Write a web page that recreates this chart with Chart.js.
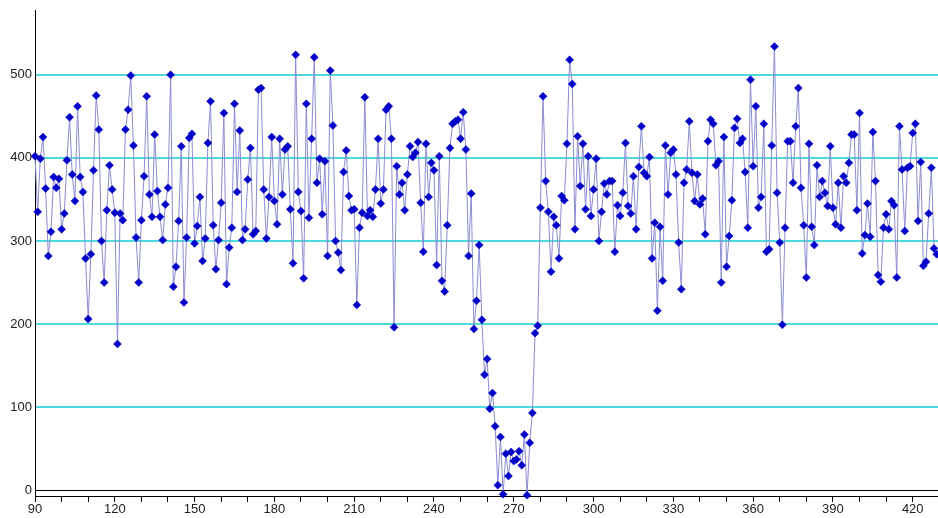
<!DOCTYPE html>
<html>
<head>
<meta charset="utf-8">
<script src="https://cdn.jsdelivr.net/npm/chart.js@4.4.0/dist/chart.umd.min.js"></script>
<style>
  html, body { margin: 0; padding: 0; background: #fff; }
  #wrap { width: 938px; height: 518px; }
</style>
</head>
<body>
<div id="wrap"><canvas id="chart" width="938" height="518"></canvas></div>
<script>
// first x of the series, one reading per unit after that
const firstX = 90;

const values = [
  // 90 - 148
  402, 335, 399, 425, 363, 282, 311, 377, 364, 375, 314, 333, 397, 449, 380, 348, 462, 377, 359, 279,
  206, 284, 385, 475, 434, 300, 250, 337, 391, 362, 334, 176, 333, 325, 434, 458, 499, 415, 304, 250,
  325, 378, 474, 356, 329, 428, 360, 329, 301, 344, 364, 500, 245, 269, 324, 414, 226, 304, 424,
  // 149 - 205
  429, 297, 318, 353, 276, 303, 418, 468, 319, 266, 301, 346, 454, 248, 292, 316, 465, 359, 433, 301,
  314, 374, 412, 308, 312, 482, 484, 362, 303, 353, 425, 348, 320, 423, 356, 410, 414, 338, 273, 524,
  359, 336, 255, 465, 328, 423, 521, 370, 399, 332, 396, 282, 505, 439, 300, 286, 265,
  // 206 - 244
  383, 409, 354, 337, 338, 223, 316, 334, 473, 330, 337, 329, 362, 423, 345, 362, 458, 462, 423, 196,
  390, 356, 370, 337, 380, 414, 401, 406, 419, 346, 287, 417, 353, 394, 385, 271, 402, 252, 239,
  // 245 - 280
  319, 412, 441, 444, 446, 423, 455, 410, 282, 357, 194, 228, 295, 205, 139, 158, 98, 117, 77, 6,
  64, -5, 44, 17, 46, 35, 37, 47, 30, 67, -6, 57, 93, 189, 198, 340,
  // 281 - 340
  474, 372, 335, 263, 329, 319, 279, 354, 349, 417, 518, 489, 314, 426, 366, 417, 338, 402, 330, 362,
  399, 300, 335, 369, 356, 372, 372, 287, 343, 330, 358, 418, 342, 333, 378, 314, 389, 438, 382, 378,
  401, 279, 322, 216, 317, 252, 415, 356, 406, 410, 380, 298, 242, 370, 386, 444, 382, 348, 380, 344,
  // 341 - 376
  351, 308, 420, 446, 441, 391, 396, 250, 425, 269, 306, 349, 436, 447, 418, 423, 383, 316, 494, 390,
  462, 340, 353, 441, 287, 290, 415, 534, 358, 298, 199, 316, 420, 420, 370, 438,
  // 377 - 429
  484, 364, 319, 256, 417, 317, 295, 391, 353, 372, 358, 342, 414, 340, 320, 370, 316, 378, 370, 394,
  428, 428, 337, 454, 285, 307, 345, 305, 431, 372, 259, 251, 316, 332, 314, 348, 343, 256, 438, 386,
  312, 388, 390, 430, 441, 324, 395, 270, 275, 333, 388, 291, 284
];

const xTickLabels = [90, 120, 150, 180, 210, 240, 270, 300, 330, 360, 390, 420];
const xMinorTicks = [90, 100, 110, 120, 130, 140, 150, 160, 170, 180, 190, 200, 210, 220, 230, 240, 250,
  260, 270, 280, 290, 300, 310, 320, 330, 340, 350, 360, 370, 380, 390, 400, 410, 420];
const yTickLabels = [0, 100, 200, 300, 400, 500];

const points = values.map((v, i) => ({ x: firstX + i, y: v }));

Chart.defaults.font.family = "'Liberation Sans', Arial, sans-serif";
Chart.defaults.font.size = 13;
Chart.defaults.color = '#222';

new Chart(document.getElementById('chart'), {
  type: 'line',
  data: {
    datasets: [{
      data: points,
      borderColor: 'rgb(140,140,210)',
      borderWidth: 1,
      tension: 0,
      pointStyle: 'rectRot',
      pointRadius: 4,
      pointBorderWidth: 0.5,
      pointBackgroundColor: '#0000c8',
      pointBorderColor: '#0000c8',
      clip: false,
    }],
  },
  options: {
    responsive: false,
    animation: false,
    layout: { autoPadding: false, padding: { top: 8, right: 0, bottom: 0, left: 0 } },
    plugins: {
      legend: { display: false },
      tooltip: { enabled: false },
    },
    scales: {
      x: {
        type: 'linear',
        min: 90,
        max: 429.5,
        afterBuildTicks: (scale) => { scale.ticks = xMinorTicks.map(v => ({ value: v })); },
        afterFit: (scale) => { scale.height = 22; },
        grid: { drawOnChartArea: false, drawTicks: true, tickLength: 6, color: '#000' },
        border: { color: '#000', width: 1 },
        ticks: {
          autoSkip: false,
          maxRotation: 0,
          padding: 0,
          callback: (v) => xTickLabels.includes(v) ? String(v) : '',
        },
      },
      y: {
        min: -7,
        max: 577,
        afterBuildTicks: (scale) => { scale.ticks = yTickLabels.map(v => ({ value: v })); },
        afterFit: (scale) => { scale.width = 35; },
        grid: {
          drawTicks: false,
          color: (ctx) => (ctx.tick && ctx.tick.value === 0) ? '#000' : 'rgb(80,216,224)',
          lineWidth: (ctx) => (ctx.tick && ctx.tick.value === 0) ? 1 : 2,
        },
        border: { color: '#000', width: 1 },
        ticks: { padding: 3 },
      },
    },
  },
});
</script>
</body>
</html>
